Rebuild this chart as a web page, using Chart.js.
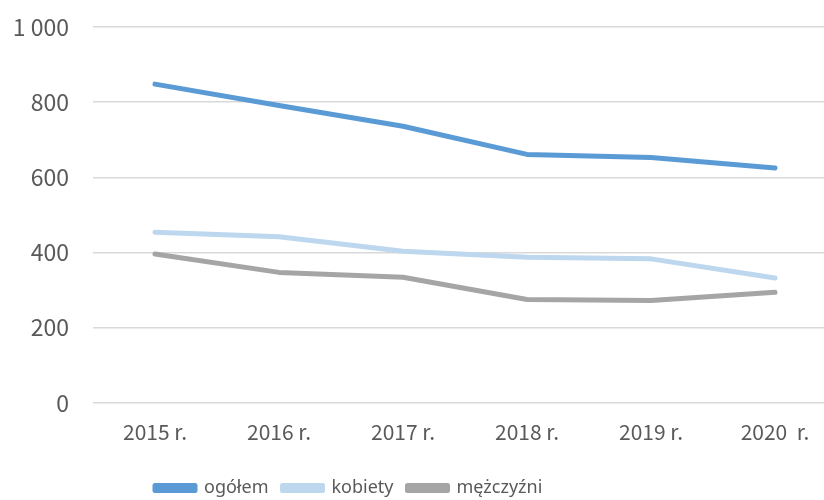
<!DOCTYPE html>
<html><head><meta charset="utf-8">
<script src="https://cdn.jsdelivr.net/npm/chart.js@4"></script>
<style>html,body{margin:0;padding:0;overflow:hidden;background:#fff;width:824px;height:500px}#wrap{width:840px;height:500px}</style>
</head><body><div id="wrap"><canvas id="c" width="840" height="500"></canvas></div>
<script>
const categories = ["2015 r.", "2016 r.", "2017 r.", "2018 r.", "2019 r.", "2020  r."];
const ogolem = [848, 791, 736, 661, 653, 625];
const kobiety = [454, 442, 403, 387, 383, 332];
const mezczyzni = [396, 347, 334, 275, 272, 294];
const yTicks = [0, 200, 400, 600, 800, 1000];
const seriesNames = ["ogółem", "kobiety", "mężczyźni"];

const legendShift = {
  id: 'legendShift',
  afterLayout(chart) {
    const lg = chart.legend;
    const w = lg.right - lg.left;
    const h = lg.bottom - lg.top;
    lg.left = 141; lg.right = 141 + w;
    lg.top -= 9; lg.bottom = lg.top + h;
  }
};

new Chart(document.getElementById('c'), {
  type: 'line',
  data: {
    labels: categories,
    datasets: [
      {label: seriesNames[0], data: ogolem, borderColor: '#5B9BD5', backgroundColor: '#5B9BD5'},
      {label: seriesNames[1], data: kobiety, borderColor: '#BDD7EE', backgroundColor: '#BDD7EE'},
      {label: seriesNames[2], data: mezczyzni, borderColor: '#A5A5A5', backgroundColor: '#A5A5A5'}
    ].map(d => Object.assign(d, {borderWidth: 5, pointRadius: 0, tension: 0, borderCapStyle: 'round', borderJoinStyle: 'round', fill: false}))
  },
  options: {
    responsive: false,
    animation: false,
    layout: {padding: {top: 27, right: 3, left: 0, bottom: -16}},
    plugins: {
      tooltip: {enabled: false},
      legend: {
        position: 'bottom', align: 'start',
        labels: {boxWidth: 40, boxHeight: 5, padding: 14, color: '#595959', font: {family: '"Noto Sans", sans-serif', size: 18}}
      }
    },
    scales: {
      x: {
        offset: true,
        grid: {display: false, drawTicks: false},
        border: {display: false},
        afterFit(s) { s.height += 12; },
        ticks: {color: '#595959', padding: 17, maxRotation: 0, font: {family: '"Noto Sans CJK JP", sans-serif', size: 21}}
      },
      y: {
        min: 0, max: 1000,
        afterBuildTicks(s) { s.ticks = yTicks.map(v => ({value: v})); },
        afterFit(s) { s.width = 93; s.paddingTop = 0; s.paddingBottom = 0; },
        grid: {color: '#D9D9D9', lineWidth: 1.5, drawTicks: false},
        border: {display: false},
        ticks: {color: '#595959', padding: 24, font: {family: '"Noto Sans CJK JP", sans-serif', size: 23},
          callback: v => v >= 1000 ? String(v).replace(/\B(?=(\d{3})+(?!\d))/g, ' ') : String(v)}
      }
    }
  },
  plugins: [legendShift]
});
</script></body></html>
